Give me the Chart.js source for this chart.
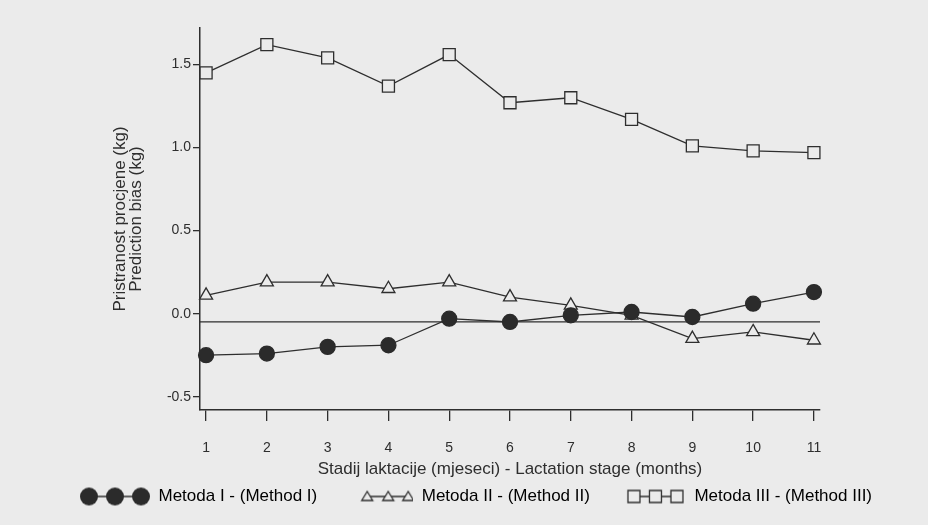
<!DOCTYPE html>
<html>
<head>
<meta charset="utf-8">
<script src="https://cdn.jsdelivr.net/npm/chart.js@4.4.0/dist/chart.umd.min.js"></script>
<style>
  html, body { margin: 0; padding: 0; background: #ebebeb; }
</style>
</head>
<body>
<canvas id="myChart" width="928" height="525"></canvas>
<script>
// lactation stage (months)
const stages = [1, 2, 3, 4, 5, 6, 7, 8, 9, 10, 11];
// prediction bias (kg) per method
const method1 = [-0.25, -0.24, -0.20, -0.19, -0.03, -0.05, -0.01, 0.01, -0.02, 0.06, 0.13];
const method2 = [0.11, 0.19, 0.19, 0.15, 0.19, 0.10, 0.05, -0.01, -0.15, -0.11, -0.16];
const method3 = [1.45, 1.62, 1.54, 1.37, 1.56, 1.27, 1.30, 1.17, 1.01, 0.98, 0.97];
const yTicks = [-0.5, 0, 0.5, 1.0, 1.5];
const refValue = -0.05;
const seriesNames = ['Metoda I - (Method I)', 'Metoda II - (Method II)', 'Metoda III - (Method III)'];

const bg = '#ebebeb';
const ink = '#2e2e2e';

Chart.defaults.font.family = '"Liberation Sans", Arial, sans-serif';
Chart.defaults.font.size = 17;
Chart.defaults.color = ink;

const toPoints = arr => arr.map((v, i) => ({ x: stages[i], y: v }));

// legend icons: three markers joined by a line, right-aligned in the box
function makeIcon(kind) {
  const c = document.createElement('canvas');
  c.width = 88;
  c.height = 22;
  const g = c.getContext('2d');
  g.strokeStyle = ink;
  g.fillStyle = bg;
  g.lineWidth = 1.3;
  let xs;
  if (kind === 'circle') xs = [27, 53, 79];
  else if (kind === 'triangle') xs = [42, 63, 83];
  else xs = [36, 57.5, 79];
  const cy = 11;
  g.beginPath();
  g.moveTo(xs[0], cy);
  g.lineTo(xs[2], cy);
  g.stroke();
  xs.forEach(x => {
    g.beginPath();
    if (kind === 'circle') {
      g.fillStyle = '#2b2b2b';
      g.arc(x, cy, 9, 0, Math.PI * 2);
      g.fill();
    } else if (kind === 'triangle') {
      g.moveTo(x, cy - 5);
      g.lineTo(x + 5.5, cy + 4);
      g.lineTo(x - 5.5, cy + 4);
      g.closePath();
      g.fill();
      g.stroke();
    } else {
      g.rect(x - 6, cy - 6, 12, 12);
      g.fill();
      g.stroke();
    }
  });
  return c;
}
const icons = [makeIcon('circle'), makeIcon('triangle'), makeIcon('rect')];

const refLinePlugin = {
  id: 'refLine',
  beforeDatasetsDraw(chart) {
    const { ctx, chartArea, scales } = chart;
    const y = scales.y.getPixelForValue(refValue);
    ctx.save();
    ctx.strokeStyle = ink;
    ctx.lineWidth = 1.3;
    ctx.beginPath();
    ctx.moveTo(chartArea.left, y);
    ctx.lineTo(chartArea.right, y);
    ctx.stroke();
    ctx.restore();
  }
};

const data = {
  datasets: [{
    label: seriesNames[0],
    data: toPoints(method1),
    clip: false,
    borderColor: ink,
    borderWidth: 1.3,
    pointStyle: 'circle',
    pointRadius: 7.5,
    pointBackgroundColor: '#2b2b2b',
    pointBorderColor: '#2b2b2b'
  }, {
    label: seriesNames[1],
    data: toPoints(method2),
    clip: false,
    borderColor: ink,
    borderWidth: 1.3,
    pointStyle: 'triangle',
    pointRadius: 7.5,
    pointBackgroundColor: bg,
    pointBorderColor: ink,
    pointBorderWidth: 1.3
  }, {
    label: seriesNames[2],
    data: toPoints(method3),
    clip: false,
    borderColor: ink,
    borderWidth: 1.3,
    pointStyle: 'rect',
    pointRadius: 8.5,
    pointBackgroundColor: bg,
    pointBorderColor: ink,
    pointBorderWidth: 1.3
  }]
};

const config = {
  type: 'line',
  data: data,
  plugins: [refLinePlugin],
  options: {
    responsive: false,
    animation: false,
    layout: { padding: { left: 54, right: 8, top: 28, bottom: 10 } },
    plugins: {
      tooltip: { enabled: false },
      legend: {
        position: 'bottom',
        align: 'start',
        labels: {
          usePointStyle: true,
          pointStyleWidth: 88,
          padding: 8,
          color: ink,
          font: { size: 17 },
          generateLabels: chart => chart.data.datasets.map((ds, i) => ({
            text: ds.label,
            pointStyle: icons[i],
            fillStyle: bg,
            strokeStyle: ink,
            lineWidth: 0,
            hidden: false,
            datasetIndex: i
          }))
        }
      }
    },
    scales: {
      x: {
        type: 'linear',
        min: 0.9,
        max: 11.1,
        afterBuildTicks: s => { s.ticks = stages.map(v => ({ value: v })); },
        afterFit: s => { s.height = 70; },
        grid: { drawOnChartArea: false, color: ink, lineWidth: 1.3, tickLength: 11 },
        border: { color: ink, width: 1.5 },
        ticks: { padding: 19, color: ink, font: { size: 14 }, maxRotation: 0 },
        title: {
          display: true,
          text: 'Stadij laktacije (mjeseci) - Lactation stage (months)',
          color: ink,
          font: { size: 17 },
          padding: { top: 0, bottom: 0 }
        }
      },
      y: {
        min: -0.58,
        max: 1.72,
        afterBuildTicks: s => { s.ticks = yTicks.map(v => ({ value: v })); },
        afterFit: s => { s.width = 146; },
        grid: { drawOnChartArea: false, color: ink, lineWidth: 1.3, tickLength: 7 },
        border: { color: ink, width: 1.5 },
        ticks: { padding: 2, color: ink, font: { size: 14 }, callback: v => v.toFixed(1) },
        title: {
          display: true,
          text: ['Pristranost procjene (kg)', 'Prediction bias (kg)'],
          color: ink,
          font: { size: 17, lineHeight: 0.95 },
          padding: { top: 58, bottom: 0 }
        }
      },
      yRight: {
        position: 'right',
        display: true,
        afterFit: s => { s.width = 100; },
        grid: { display: false },
        border: { display: false },
        ticks: { display: false }
      }
    }
  }
};

const myChart = new Chart(document.getElementById('myChart'), config);
</script>
</body>
</html>
